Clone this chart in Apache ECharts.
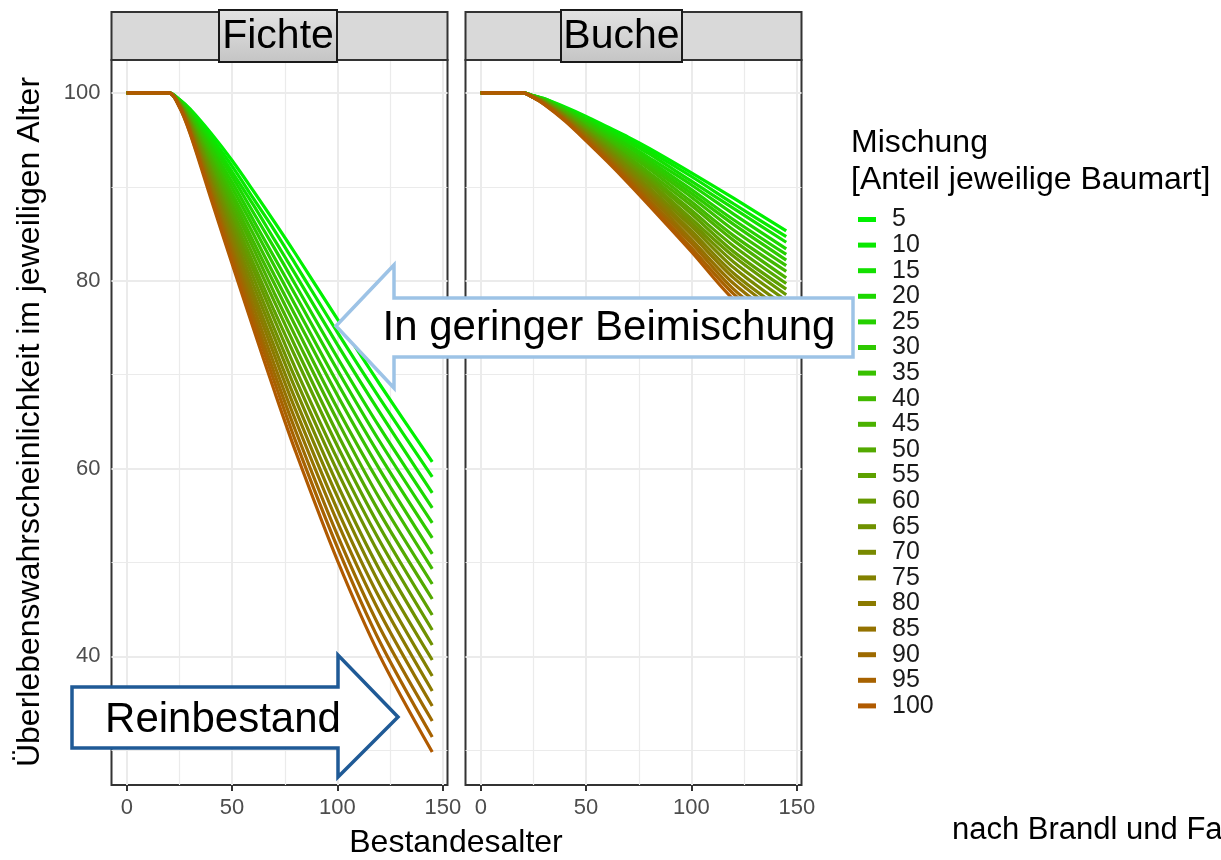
<!DOCTYPE html>
<html>
<head>
<meta charset="utf-8">
<script src="https://cdn.jsdelivr.net/npm/echarts@6/dist/echarts.min.js"></script>
<style>
html,body{margin:0;padding:0;background:#fff;}
#c{width:1221px;height:860px;}
</style>
</head>
<body>
<div id="c"></div>
<script>
// ---------- data ----------
const ages = [0, 20, 25, 30, 40, 50, 60, 70, 80, 100, 120, 145];
const shares = ['5','10','15','20','25','30','35','40','45','50','55','60','65','70','75','80','85','90','95','100'];
const xTicks = [0, 50, 100, 150];
const yTicks = [40, 60, 80, 100];

// Fichte (spruce) survival %, one array per admixture share
const fichte5   = [100,100,99.3,98.3,95.7,92.8,89.6,86.3,82.9,75.9,69.0,60.7];
const fichte10  = [100,100,99.3,98.2,95.3,92.2,88.8,85.4,81.8,74.5,67.5,59.1];
const fichte15  = [100,100,99.2,98.0,95.0,91.6,88.1,84.4,80.7,73.2,66.0,57.4];
const fichte20  = [100,100,99.2,97.9,94.6,91.1,87.3,83.5,79.6,71.8,64.4,55.8];
const fichte25  = [100,100,99.1,97.8,94.2,90.5,86.5,82.5,78.5,70.5,62.9,54.2];
const fichte30  = [100,100,99.1,97.6,93.9,89.9,85.8,81.6,77.4,69.1,61.4,52.6];
const fichte35  = [100,100,99.0,97.5,93.5,89.3,85.0,80.6,76.3,67.8,59.9,50.9];
const fichte40  = [100,100,99.0,97.3,93.1,88.8,84.2,79.7,75.2,66.4,58.4,49.3];
const fichte45  = [100,100,99.0,97.2,92.8,88.2,83.5,78.7,74.1,65.1,56.8,47.7];
const fichte50  = [100,100,98.9,97.1,92.4,87.6,82.7,77.8,73.0,63.7,55.3,46.1];
const fichte55  = [100,100,98.9,96.9,92.0,87.0,81.9,76.8,71.9,62.4,53.8,44.4];
const fichte60  = [100,100,98.8,96.8,91.7,86.4,81.2,75.9,70.7,61.0,52.3,42.8];
const fichte65  = [100,100,98.8,96.7,91.3,85.9,80.4,74.9,69.6,59.7,50.8,41.2];
const fichte70  = [100,100,98.8,96.5,90.9,85.3,79.6,74.0,68.5,58.3,49.2,39.6];
const fichte75  = [100,100,98.7,96.4,90.5,84.7,78.8,73.0,67.4,57.0,47.7,37.9];
const fichte80  = [100,100,98.7,96.2,90.2,84.1,78.1,72.1,66.3,55.6,46.2,36.3];
const fichte85  = [100,100,98.6,96.1,89.8,83.5,77.3,71.1,65.2,54.3,44.7,34.7];
const fichte90  = [100,100,98.6,96.0,89.4,83.0,76.5,70.2,64.1,52.9,43.1,33.1];
const fichte95  = [100,100,98.5,95.8,89.1,82.4,75.8,69.3,63.0,51.6,41.6,31.4];
const fichte100 = [100,100,98.5,95.7,88.7,81.8,75.0,68.3,61.9,50.2,40.1,29.8];

// Buche (beech) survival %
const buche5   = [100,100,99.7,99.4,98.5,97.5,96.4,95.3,94.1,91.5,88.8,85.3];
const buche10  = [100,100,99.7,99.4,98.4,97.4,96.2,95.0,93.8,91.1,88.2,84.7];
const buche15  = [100,100,99.7,99.3,98.3,97.2,96.0,94.8,93.5,90.6,87.7,84.1];
const buche20  = [100,100,99.7,99.3,98.3,97.1,95.8,94.5,93.1,90.2,87.1,83.4];
const buche25  = [100,100,99.7,99.3,98.2,97.0,95.6,94.3,92.8,89.7,86.5,82.8];
const buche30  = [100,100,99.6,99.2,98.1,96.8,95.4,94.0,92.5,89.3,86.0,82.2];
const buche35  = [100,100,99.6,99.2,98.0,96.7,95.2,93.8,92.2,88.9,85.4,81.6];
const buche40  = [100,100,99.6,99.2,98.0,96.5,95.0,93.5,91.9,88.4,84.8,81.0];
const buche45  = [100,100,99.6,99.2,97.9,96.4,94.8,93.2,91.5,88.0,84.3,80.3];
const buche50  = [100,100,99.6,99.1,97.8,96.3,94.7,93.0,91.2,87.5,83.7,79.7];
const buche55  = [100,100,99.6,99.1,97.7,96.1,94.5,92.7,90.9,87.1,83.1,79.1];
const buche60  = [100,100,99.6,99.1,97.6,96.0,94.3,92.5,90.6,86.6,82.6,78.5];
const buche65  = [100,100,99.6,99.0,97.6,95.9,94.1,92.2,90.3,86.2,82.0,77.9];
const buche70  = [100,100,99.6,99.0,97.5,95.7,93.9,92.0,89.9,85.8,81.4,77.2];
const buche75  = [100,100,99.6,99.0,97.4,95.6,93.7,91.7,89.6,85.3,80.8,76.6];
const buche80  = [100,100,99.5,98.9,97.3,95.5,93.5,91.4,89.3,84.9,80.3,76.0];
const buche85  = [100,100,99.5,98.9,97.2,95.3,93.3,91.2,89.0,84.4,79.7,75.4];
const buche90  = [100,100,99.5,98.9,97.2,95.2,93.1,90.9,88.6,84.0,79.1,74.7];
const buche95  = [100,100,99.5,98.8,97.1,95.0,92.9,90.7,88.3,83.5,78.6,74.1];
const buche100 = [100,100,99.5,98.8,97.0,94.9,92.7,90.4,88.0,83.1,78.0,73.5];

const fichte = [fichte5,fichte10,fichte15,fichte20,fichte25,fichte30,fichte35,fichte40,fichte45,fichte50,
                fichte55,fichte60,fichte65,fichte70,fichte75,fichte80,fichte85,fichte90,fichte95,fichte100];
const buche  = [buche5,buche10,buche15,buche20,buche25,buche30,buche35,buche40,buche45,buche50,
                buche55,buche60,buche65,buche70,buche75,buche80,buche85,buche90,buche95,buche100];

// ---------- styling ----------
const FONT = '"Liberation Sans", Arial, sans-serif';
const lowCol = [0, 240, 0], highCol = [176, 90, 0];
function colorAt(i, n) {
  const t = i / (n - 1);
  const c = lowCol.map((v, k) => Math.round(v + (highCol[k] - v) * t));
  return 'rgb(' + c.join(',') + ')';
}
const colors = shares.map((s, i) => colorAt(i, shares.length));

const X_MIN = -7.25, X_MAX = 152.25, Y_MIN = 26.29, Y_MAX = 103.51;
const grids = [
  {left: 111.5, top: 60, width: 336, height: 725},
  {left: 465.5, top: 60, width: 336, height: 725}
];

function gridLineSeries(idx) {
  const d = [];
  [0, 50, 100, 150].forEach(v => d.push({xAxis: v, lineStyle: {width: 2}}));
  [25, 75, 125].forEach(v => d.push({xAxis: v, lineStyle: {width: 1.2}}));
  [40, 60, 80, 100].forEach(v => d.push({yAxis: v, lineStyle: {width: 2}}));
  [30, 50, 70, 90].forEach(v => d.push({yAxis: v, lineStyle: {width: 1.2}}));
  return {
    type: 'line', xAxisIndex: idx, yAxisIndex: idx, data: [[0, 100]],
    showSymbol: false, lineStyle: {opacity: 0}, silent: true, z: 1,
    markLine: {
      silent: true, z: 1, symbol: ['none', 'none'], animation: false,
      label: {show: false}, emphasis: {disabled: true},
      lineStyle: {type: 'solid', color: '#EBEBEB'},
      data: d
    }
  };
}

const series = [gridLineSeries(0), gridLineSeries(1)];
shares.forEach((s, i) => {
  series.push({
    name: s, type: 'line', xAxisIndex: 0, yAxisIndex: 0, z: 2,
    data: ages.map((a, j) => [a, fichte[i][j]]),
    showSymbol: false, smooth: 0.3, color: colors[i],
    lineStyle: {width: 3.2, color: colors[i]}, emphasis: {disabled: true}
  });
});
shares.forEach((s, i) => {
  series.push({
    name: s, type: 'line', xAxisIndex: 1, yAxisIndex: 1, z: 2,
    data: ages.map((a, j) => [a, buche[i][j]]),
    showSymbol: false, smooth: 0.3, color: colors[i],
    lineStyle: {width: 3.2, color: colors[i]}, emphasis: {disabled: true}
  });
});

function xAx(idx) {
  return {
    type: 'value', gridIndex: idx, min: X_MIN, max: X_MAX,
    axisLine: {show: false},
    splitLine: {show: false},
    axisTick: {show: true, customValues: xTicks, length: 6, lineStyle: {color: '#333', width: 2}},
    axisLabel: {customValues: xTicks, fontSize: 22, color: '#4D4D4D', fontFamily: FONT, margin: 12}
  };
}
function yAx(idx, show) {
  return {
    type: 'value', gridIndex: idx, min: Y_MIN, max: Y_MAX,
    axisLine: {show: false},
    splitLine: {show: false},
    axisTick: {show: show, customValues: yTicks, length: 6, lineStyle: {color: '#333', width: 2}},
    axisLabel: {show: show, customValues: yTicks, fontSize: 22, color: '#4D4D4D', fontFamily: FONT, margin: 11}
  };
}

function stripGroup(x, w, boxX, boxW, label) {
  return [
    {type: 'rect', z: 10, shape: {x: x, y: 12, width: w, height: 48},
     style: {fill: '#D9D9D9', stroke: '#333', lineWidth: 2}},
    {type: 'rect', z: 11, shape: {x: boxX, y: 10, width: boxW, height: 52},
     style: {fill: new echarts.graphic.LinearGradient(0, 0, 0, 1, [{offset: 0, color: '#E4E4E4'}, {offset: 1, color: '#C4C4C4'}]),
             stroke: '#1a1a1a', lineWidth: 2}},
    {type: 'text', z: 12, x: boxX + boxW / 2, y: 37,
     style: {text: label, font: '41px ' + FONT, fill: '#000', align: 'center', verticalAlign: 'middle'}}
  ];
}

const graphics = [].concat(
  stripGroup(111.5, 336, 219, 118, 'Fichte'),
  stripGroup(465.5, 336, 561, 121, 'Buche'),
  [
    {type: 'text', z: 12, x: 30, y: 422, rotation: Math.PI / 2,
     style: {text: 'Überlebenswahrscheinlichkeit im jeweiligen Alter', font: '32px ' + FONT, fill: '#000', align: 'center', verticalAlign: 'middle'}},
    {type: 'text', z: 12, x: 456, y: 843,
     style: {text: 'Bestandesalter', font: '32px ' + FONT, fill: '#000', align: 'center', verticalAlign: 'middle'}},
    {type: 'text', z: 12, x: 851, y: 143,
     style: {text: 'Mischung', font: '32px ' + FONT, fill: '#000', align: 'left', verticalAlign: 'middle'}},
    {type: 'text', z: 12, x: 851, y: 180,
     style: {text: '[Anteil jeweilige Baumart]', font: '32px ' + FONT, fill: '#000', align: 'left', verticalAlign: 'middle'}},
    {type: 'polygon', z: 20,
     shape: {points: [[336, 326], [394, 265], [394, 298], [853, 298], [853, 357], [394, 357], [394, 388]]},
     style: {fill: '#fff', stroke: '#9DC3E6', lineWidth: 3.5}},
    {type: 'text', z: 21, x: 609, y: 328,
     style: {text: 'In geringer Beimischung', font: '42px ' + FONT, fill: '#000', align: 'center', verticalAlign: 'middle'}},
    {type: 'polygon', z: 20,
     shape: {points: [[72, 687], [338, 687], [338, 655], [398, 717], [338, 777], [338, 748], [72, 748]]},
     style: {fill: '#fff', stroke: '#1F5A96', lineWidth: 3.5}},
    {type: 'text', z: 21, x: 223, y: 720,
     style: {text: 'Reinbestand', font: '42px ' + FONT, fill: '#000', align: 'center', verticalAlign: 'middle'}},
    {type: 'text', z: 12, x: 952, y: 830,
     style: {text: 'nach Brandl und Falk', font: '31px ' + FONT, fill: '#000', align: 'left', verticalAlign: 'middle'}}
  ]
);

const option = {
  animation: false,
  backgroundColor: '#fff',
  textStyle: {fontFamily: FONT},
  grid: grids.map(g => Object.assign({show: true, borderColor: '#333', borderWidth: 2, backgroundColor: '#fff', containLabel: false}, g)),
  xAxis: [xAx(0), xAx(1)],
  yAxis: [yAx(0, true), yAx(1, false)],
  legend: {
    data: shares, orient: 'vertical', left: 858, top: 207, padding: 0,
    itemWidth: 18, itemHeight: 5, itemGap: 0.6, icon: 'rect', selectedMode: false,
    textStyle: {fontSize: 25, lineHeight: 25, color: '#1a1a1a', fontFamily: FONT, padding: [0, 0, 0, 11]}
  },
  series: series,
  graphic: graphics
};

const chart = echarts.init(document.getElementById('c'), null, {renderer: 'canvas'});
chart.setOption(option);
</script>
</body>
</html>
